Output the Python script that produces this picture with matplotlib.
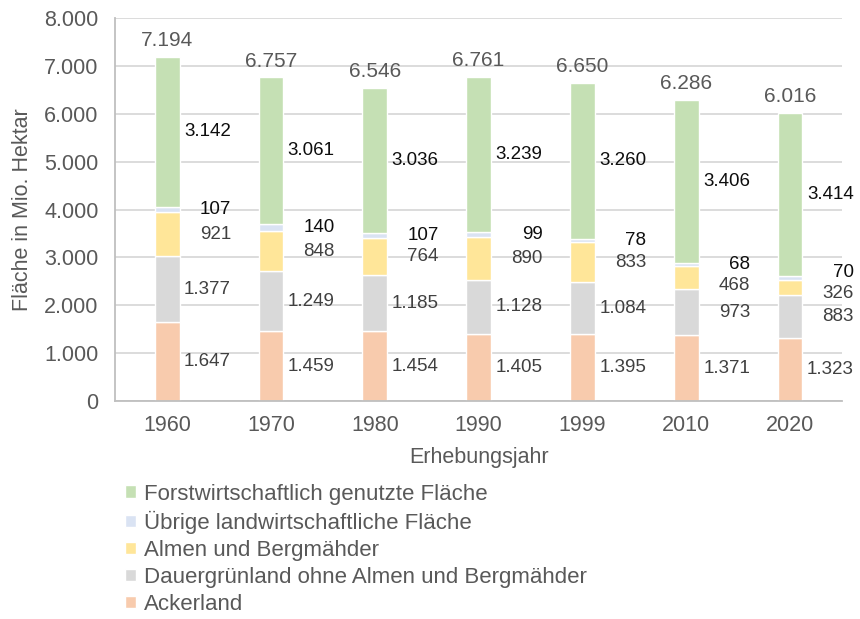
import matplotlib.pyplot as plt
import numpy as np

plt.rcParams['font.family'] = ['Liberation Sans', 'DejaVu Sans']

years = ['1960', '1970', '1980', '1990', '1999', '2010', '2020']
ackerland = [1647, 1459, 1454, 1405, 1395, 1371, 1323]
dauergruen = [1377, 1249, 1185, 1128, 1084, 973, 883]
almen = [921, 848, 764, 890, 833, 468, 326]
uebrige = [107, 140, 107, 99, 78, 68, 70]
forst = [3142, 3061, 3036, 3239, 3260, 3406, 3414]
totals = [7194, 6757, 6546, 6761, 6650, 6286, 6016]

series = [
    ('Ackerland', ackerland, '#f8cbad', '#404040'),
    ('Dauergrünland ohne Almen und Bergmähder', dauergruen, '#d9d9d9', '#404040'),
    ('Almen und Bergmähder', almen, '#ffe699', '#404040'),
    ('Übrige landwirtschaftliche Fläche', uebrige, '#dae3f3', '#0d0d0d'),
    ('Forstwirtschaftlich genutzte Fläche', forst, '#c5e0b4', '#0d0d0d'),
]

# small vertical nudges (points) where excel moved labels apart
nudge = {('Almen und Bergmähder', 5): -6,
         ('Almen und Bergmähder', 6): -4,
         ('Übrige landwirtschaftliche Fläche', 6): 4}


def fmt(v):
    return f'{v:,}'.replace(',', '.')


fig = plt.figure(figsize=(8.6, 6.19), dpi=100)
ax = fig.add_axes([0.134, 0.352, 0.845, 0.619])

x = np.arange(len(years))
bottom = np.zeros(len(years))
handles = []
for name, vals, col, tcol in series:
    vals = np.array(vals)
    b = ax.bar(x, vals, 0.24, bottom=bottom, color=col, edgecolor='white',
               linewidth=1, label=name, zorder=2)
    handles.append(b)
    for i, v in enumerate(vals):
        ax.annotate(fmt(v), (x[i] + 0.615, bottom[i] + v / 2),
                    xytext=(0, nudge.get((name, i), 0)), textcoords='offset points',
                    ha='right', va='center', fontsize=13.5, color=tcol,
                    annotation_clip=False)
    bottom += vals

for i, t in enumerate(totals):
    ax.annotate(fmt(t), (x[i], t), xytext=(0, 5), textcoords='offset points',
                ha='center', va='bottom', fontsize=15, color='#595959',
                annotation_clip=False)

ax.set_xlim(-0.5, len(years) - 0.5)
ax.set_ylim(0, 8000)
ax.set_yticks(np.arange(0, 8001, 1000))
ax.set_yticklabels([fmt(v) for v in range(0, 8001, 1000)])
ax.set_xticks(x)
ax.set_xticklabels(years)
ax.tick_params(length=0, labelsize=15.5, labelcolor='#595959')
ax.tick_params(axis='y', pad=12)
ax.tick_params(axis='x', pad=10)
ax.grid(axis='y', color='#d9d9d9', linewidth=1.3, zorder=0)
ax.set_axisbelow(True)
for s in ['top', 'right']:
    ax.spines[s].set_visible(False)
for s in ['left', 'bottom']:
    ax.spines[s].set_color('#bfbfbf')
    ax.spines[s].set_linewidth(1.3)

ax.set_ylabel('Fläche in Mio. Hektar', fontsize=15.5, color='#595959', labelpad=8)
ax.set_xlabel('Erhebungsjahr', fontsize=15.5, color='#595959', labelpad=8)

fig.legend(handles[::-1], [s[0] for s in series][::-1], loc='upper left',
           bbox_to_anchor=(0.135, 0.233), frameon=False, fontsize=16,
           labelcolor='#595959', handlelength=0.5, handleheight=0.5,
           handletextpad=0.35, labelspacing=0.27, borderaxespad=0)

fig.savefig('out.png', dpi=100)
